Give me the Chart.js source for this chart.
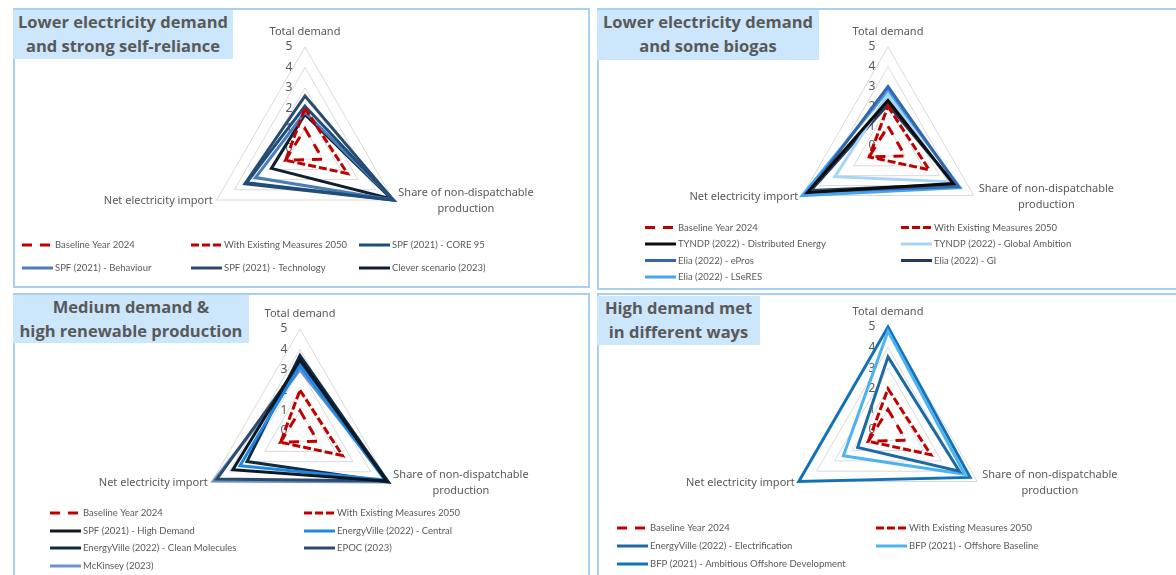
<!DOCTYPE html>
<html>
<head>
<meta charset="utf-8">
<script src="https://cdn.jsdelivr.net/npm/chart.js@4.4.1/dist/chart.umd.min.js"></script>
<style>
  body { margin: 0; background: #fff; width: 1176px; height: 575px; overflow: hidden; position: relative; }
  .panel { position: absolute; box-sizing: border-box; border: 2px solid #A8D0F2; }
  .panel canvas { position: absolute; left: -2px; top: -2px; }
  .title { position: absolute; background: #CCE6FB; color: #595959; font: bold 16.5px "Open Sans", sans-serif;
           text-align: center; line-height: 24px; }
</style>
</head>
<body>
<script>
// axes of every radar (clockwise from top)
const axisLabels = ["Total demand", ["Share of non-dispatchable", "production"], "Net electricity import"];
const tickValues = [0, 1, 2, 3, 4, 5];

// reference series, same in every panel
const baselineYear2024 = [1.0, 1.0, 1.1];
const withExistingMeasures2050 = [2.0, 2.4, 1.1];

// lower demand, strong self-reliance
const spfCore95 = [2.1, 5.0, 3.3];
const spfBehaviour = [1.8, 5.0, 2.8];
const spfTechnology = [2.6, 5.0, 3.4];
const cleverScenario = [1.7, 4.9, 1.9];

// lower demand, some biogas
const tyndpDistributedEnergy = [2.3, 3.8, 4.7];
const tyndpGlobalAmbition = [2.6, 3.6, 3.1];
const eliaEPros = [3.0, 4.1, 4.6];
const eliaGI = [2.1, 3.9, 4.5];
const eliaLSeRES = [2.8, 4.2, 5.0];

// medium demand, high renewables
const spfHighDemand = [3.5, 4.9, 3.8];
const evCentral = [3.2, 4.8, 3.4];
const evCleanMolecules = [3.7, 5.0, 3.0];
const epoc2023 = [3.3, 4.9, 4.7];
const mckinsey2023 = [3.0, 5.0, 4.9];

// high demand
const evElectrification = [3.55, 4.0, 1.7];
const bfpOffshoreBaseline = [4.8, 4.3, 2.5];
const bfpAmbitiousOffshore = [5.0, 4.6, 5.0];

const RED = "#C00000";
function refSets() {
  return [
    { label: "Baseline Year 2024", data: baselineYear2024, borderColor: RED, borderDash: [10, 8] },
    { label: "With Existing Measures 2050", data: withExistingMeasures2050, borderColor: RED, borderDash: [8, 3] },
  ];
}

const panels = [
  {
    box: { x: 13, y: 8, w: 577, h: 280 }, cx: 305, cy: 149, r: 102,
    title: { x: 13, y: 10, w: 220, h: 49, lines: ["Lower electricity demand", "and strong self-reliance"] },
    legend: { cols: [22, 191, 359], rows: [245, 268] },
    sets: [
      { label: "SPF (2021) - CORE 95", data: spfCore95, borderColor: "#1F4E79" },
      { label: "SPF (2021) - Behaviour", data: spfBehaviour, borderColor: "#4A7DBA" },
      { label: "SPF (2021) - Technology", data: spfTechnology, borderColor: "#2B4A6F" },
      { label: "Clever scenario (2023)", data: cleverScenario, borderColor: "#0F1E33" },
    ],
  },
  {
    box: { x: 597, y: 8, w: 585, h: 282 }, cx: 888, cy: 146, r: 99,
    title: { x: 597, y: 10, w: 222, h: 50, lines: ["Lower electricity demand", "and some biogas"] },
    legend: { cols: [645, 901], rows: [227.5, 244, 260.5, 277] },
    sets: [
      { label: "TYNDP (2022) - Distributed Energy", data: tyndpDistributedEnergy, borderColor: "#0D0D0D" },
      { label: "TYNDP (2022) - Global Ambition", data: tyndpGlobalAmbition, borderColor: "#A9D4F5" },
      { label: "Elia (2022) - ePros", data: eliaEPros, borderColor: "#3566A8" },
      { label: "Elia (2022) - GI", data: eliaGI, borderColor: "#22385C" },
      { label: "Elia (2022) - LSeRES", data: eliaLSeRES, borderColor: "#42A5F5" },
    ],
  },
  {
    box: { x: 13, y: 293, w: 577, h: 290 }, cx: 300, cy: 431, r: 102,
    title: { x: 13, y: 295, w: 236, h: 48, lines: ["Medium demand &", "high renewable production"] },
    legend: { cols: [50, 304], rows: [513, 531, 548, 566] },
    sets: [
      { label: "SPF (2021) - High Demand", data: spfHighDemand, borderColor: "#0C1824" },
      { label: "EnergyVille (2022) - Central", data: evCentral, borderColor: "#1E88E5" },
      { label: "EnergyVille (2022) - Clean Molecules", data: evCleanMolecules, borderColor: "#0F2B40" },
      { label: "EPOC (2023)", data: epoc2023, borderColor: "#2E4A6E" },
      { label: "McKinsey (2023)", data: mckinsey2023, borderColor: "#6A93CC" },
    ],
  },
  {
    box: { x: 597, y: 293, w: 585, h: 290 }, cx: 888, cy: 430, r: 103,
    title: { x: 597, y: 296, w: 163, h: 49, lines: ["High demand met", "in different ways"] },
    legend: { cols: [617, 876], rows: [528, 546, 564] },
    sets: [
      { label: "EnergyVille (2022) - Electrification", data: evElectrification, borderColor: "#1B6AA5" },
      { label: "BFP (2021) - Offshore Baseline", data: bfpOffshoreBaseline, borderColor: "#4DB3EE" },
      { label: "BFP (2021) - Ambitious Offshore Development", data: bfpAmbitiousOffshore, borderColor: "#1172B8" },
    ],
  },
];

// tick numbers sit left of the vertical axis, under the lines
const tickText = {
  id: "tickText",
  beforeDatasetsDraw(chart) {
    const s = chart.scales.r, ctx = chart.ctx;
    ctx.save();
    ctx.font = '12px "Noto Sans"';
    ctx.fillStyle = "#595959";
    ctx.textAlign = "center";
    ctx.textBaseline = "middle";
    tickValues.forEach((v) => {
      ctx.fillText(String(v), s.xCenter - 16, s.yCenter - s.getDistanceFromCenterForValue(v));
    });
    ctx.restore();
  },
};

// axis names placed next to the outer vertices
const axisTitles = {
  id: "axisTitles",
  afterDraw(chart) {
    const s = chart.scales.r, ctx = chart.ctx;
    ctx.save();
    ctx.font = '11px "Noto Sans"';
    ctx.fillStyle = "#595959";
    ctx.textAlign = "center";
    ctx.textBaseline = "middle";
    chart.data.labels.forEach((lab, i) => {
      const lines = [].concat(lab);
      const p = s.getPointPosition(i, s.drawingArea);
      const w = Math.max(...lines.map((t) => ctx.measureText(t).width));
      let x, y;
      if (p.x > s.xCenter + 1) { x = p.x + 5 + w / 2; y = p.y + 1; }
      else if (p.x < s.xCenter - 1) { x = p.x - 4 - w / 2; y = p.y + 1; }
      else { x = p.x; y = p.y - 15; }
      lines.forEach((t, k) => ctx.fillText(t, x, y + (k - (lines.length - 1) / 2) * 16));
    });
    ctx.restore();
  },
};

// legend laid out on a fixed grid like the original
const legendGrid = {
  id: "legendGrid",
  afterDraw(chart, args, o) {
    const ctx = chart.ctx;
    ctx.save();
    ctx.font = "9.5px Lato";
    ctx.fillStyle = "#595959";
    ctx.textBaseline = "middle";
    chart.data.datasets.forEach((ds, i) => {
      const x = o.cols[i % o.cols.length], y = o.rows[Math.floor(i / o.cols.length)];
      ctx.save();
      ctx.strokeStyle = ds.borderColor;
      ctx.lineWidth = 3;
      ctx.setLineDash(ds.borderDash || []);
      ctx.beginPath();
      ctx.moveTo(x, y);
      ctx.lineTo(x + 31, y);
      ctx.stroke();
      ctx.restore();
      ctx.fillText(ds.label, x + 33, y);
    });
    ctx.restore();
  },
};

panels.forEach((p) => {
  const b = p.box;
  const div = document.createElement("div");
  div.className = "panel";
  Object.assign(div.style, { left: b.x + "px", top: b.y + "px", width: b.w + "px", height: b.h + "px" });
  const canvas = document.createElement("canvas");
  canvas.width = b.w;
  canvas.height = b.h;
  div.appendChild(canvas);
  document.body.appendChild(div);

  const t = document.createElement("div");
  t.className = "title";
  Object.assign(t.style, { left: p.title.x + "px", top: p.title.y + "px", width: p.title.w + "px", height: p.title.h + "px" });
  t.innerHTML = p.title.lines.join("<br>");
  document.body.appendChild(t);

  const datasets = refSets().concat(p.sets).map((d) => ({
    ...d, borderWidth: 3, pointRadius: 0, fill: false, tension: 0,
  }));

  new Chart(canvas.getContext("2d"), {
    type: "radar",
    data: { labels: axisLabels, datasets: datasets },
    plugins: [tickText, axisTitles, legendGrid],
    options: {
      responsive: false,
      animation: false,
      layout: {
        padding: {
          left: p.cx - p.r - b.x,
          right: b.w - (p.cx + p.r - b.x),
          top: p.cy - p.r - b.y,
          bottom: b.h - (p.cy + p.r - b.y),
        },
      },
      scales: {
        r: {
          min: 0, max: 5,
          ticks: { stepSize: 1, display: false },
          grid: { color: "#D9D9D9", lineWidth: 1 },
          angleLines: { display: false },
          pointLabels: { display: false },
        },
      },
      plugins: {
        legend: { display: false },
        tooltip: { enabled: false },
        legendGrid: {
          cols: p.legend.cols.map((x) => x - b.x),
          rows: p.legend.rows.map((y) => y - b.y),
        },
      },
    },
  });
});
</script>
</body>
</html>
